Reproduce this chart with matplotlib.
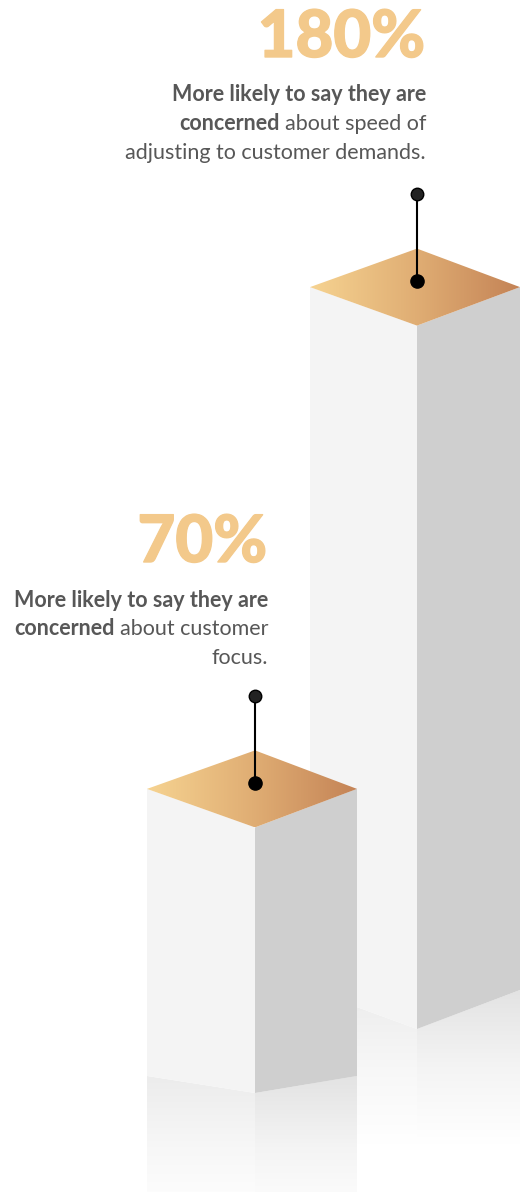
import numpy as np
import matplotlib
matplotlib.use("Agg")
import matplotlib.pyplot as plt
import matplotlib.patheffects as pe
from matplotlib.patches import Polygon
from matplotlib.colors import LinearSegmentedColormap

# --- data -------------------------------------------------------------
values = [70, 180]
value_labels = ["70%", "180%"]
# each caption line is (bold part, regular part)
captions = [
    [("More likely to say they are", ""),
     ("concerned", "about customer"),
     ("", "focus.")],
    [("More likely to say they are", ""),
     ("concerned", "about speed of"),
     ("", "adjusting to customer demands.")],
]

# --- layout (pixel space) ---------------------------------------------
W, H = 520, 1192
PX_PER_PCT = 3.98
H_OFFSET = -13
bar_cx = [255, 417]
bar_half_l = [108, 107]
bar_half_r = [102, 103]
bar_base = [1093, 1029]
bar_foot_rise = [17, 39]
dh = 38.5
refl_len = [125, 115]
text_right = [268, 426]
num_baseline = [562, 57]
cap_baselines = [[607, 635, 664], [101, 130, 159]]

NUM_COLOR = "#f3c98b"
TEXT_COLOR = "#575757"
TOP_COLORS = ["#f6d391", "#e0ae74", "#c48356"]
NUM_FONT = ["Lato Black", "Lato Heavy", "Lato"]

fig = plt.figure(figsize=(W / 100, H / 100), dpi=100)
ax = fig.add_axes([0, 0, 1, 1])
ax.axis("off")


def gradient_poly(xy, colors, horizontal=True, z=1):
    poly = Polygon(xy, closed=True, facecolor="none", edgecolor="none")
    ax.add_patch(poly)
    xy = np.asarray(xy)
    x0, x1 = xy[:, 0].min(), xy[:, 0].max()
    y0, y1 = xy[:, 1].min(), xy[:, 1].max()
    cmap = LinearSegmentedColormap.from_list("g", colors)
    g = np.linspace(0, 1, 256)
    img = g[None, :] if horizontal else g[:, None]
    im = ax.imshow(img, cmap=cmap, extent=(x0, x1, y1, y0), aspect="auto",
                   interpolation="bilinear", zorder=z)
    im.set_clip_path(poly)
    return im


def draw_bar(i, z):
    cx, base, rise = bar_cx[i], bar_base[i], bar_foot_rise[i]
    h = values[i] * PX_PER_PCT + H_OFFSET
    top = base - h
    xl, xr = cx - bar_half_l[i], cx + bar_half_r[i]

    # floor reflection, fading downward
    end = base + refl_len[i]
    gradient_poly([(xl, base - rise), (cx, base), (cx, end), (xl, end)],
                  ["#ececec", "#f7f7f7", "#ffffff"], horizontal=False, z=z)
    gradient_poly([(cx, base), (xr, base - rise), (xr, end), (cx, end)],
                  ["#e3e3e3", "#f4f4f4", "#ffffff"], horizontal=False, z=z)

    # faces
    ax.add_patch(Polygon([(xl, top - dh), (cx, top), (cx, base), (xl, base - rise)],
                         closed=True, facecolor="#f4f4f4", edgecolor="none", zorder=z + 0.1))
    ax.add_patch(Polygon([(cx, top), (xr, top - dh), (xr, base - rise), (cx, base)],
                         closed=True, facecolor="#cfcfcf", edgecolor="none", zorder=z + 0.1))
    # top face with the copper gradient
    gradient_poly([(xl, top - dh), (cx, top - 2 * dh), (xr, top - dh), (cx, top)],
                  TOP_COLORS, horizontal=True, z=z + 0.2)

    # pin marker
    pin_y = top - dh - 6
    ax.plot([cx, cx], [pin_y - 87, pin_y], color="black", lw=1.5, zorder=z + 0.3,
            solid_capstyle="butt")
    ax.plot(cx, pin_y - 87, "o", ms=9, mfc="#222222", mec="black", mew=1, zorder=z + 0.4)
    ax.plot(cx, pin_y, "o", ms=9.5, mfc="black", mec="black", zorder=z + 0.4)


# back bar first, front bar on top
draw_bar(1, 1)
draw_bar(0, 3)

ax.set_xlim(0, W)
ax.set_ylim(H, 0)

renderer = fig.canvas.get_renderer()
inv = ax.transData.inverted()

for i in range(len(values)):
    ax.text(text_right[i] - 1, num_baseline[i], value_labels[i], ha="right",
            va="baseline", fontsize=47, fontfamily=NUM_FONT, fontweight="black",
            color=NUM_COLOR, zorder=10,
            path_effects=[pe.withStroke(linewidth=1, foreground=NUM_COLOR)])
    for (bold, reg), y in zip(captions[i], cap_baselines[i]):
        x = text_right[i]
        if reg:
            t = ax.text(x, y, reg, ha="right", va="baseline", fontsize=15.5,
                        fontfamily="Lato", color=TEXT_COLOR, zorder=10)
            bb = t.get_window_extent(renderer=renderer)
            x = inv.transform((bb.x0, 0))[0] - 5
        if bold:
            ax.text(x, y, bold, ha="right", va="baseline", fontsize=15.5,
                    fontfamily="Lato", fontweight="bold", color=TEXT_COLOR, zorder=10)

fig.savefig("out.png", dpi=100, facecolor="white")
